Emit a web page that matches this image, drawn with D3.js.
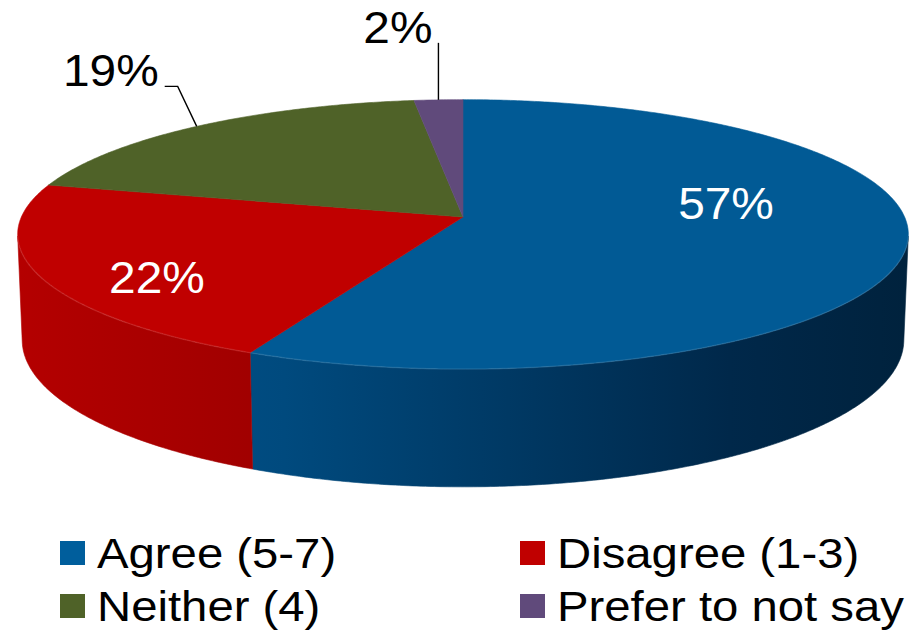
<!DOCTYPE html>
<html>
<head>
<meta charset="utf-8">
<script src="https://cdn.jsdelivr.net/npm/d3@7"></script>
<style>
  html, body { margin: 0; padding: 0; background: #fff; }
  svg { display: block; }
  text { font-family: "Liberation Sans", Arial, sans-serif; }
</style>
</head>
<body>
<svg id="chart" width="923" height="632"></svg>
<script>
// ---- data ----
const categories = ["Agree (5-7)", "Disagree (1-3)", "Neither (4)", "Prefer to not say"];
const values = [57, 22, 19, 2];
const labels = ["57%", "22%", "19%", "2%"];

// ---- styles / layout ----
const topColors  = ["#015A95", "#C00000", "#4F6228", "#604A7B"];
const legColors  = ["#005E9C", "#C00000", "#4F6228", "#604A7B"];
const wallStops = [
  [[0, "#005690"], [0.3, "#004a7e"], [0.55, "#003964"], [0.8, "#00284a"], [1, "#00223d"]],
  [[0, "#b40000"], [0.12, "#ab0000"], [0.26, "#a10000"], [1, "#a00000"]],
  [[0, "#3e4f1f"], [1, "#2f3c17"]],
  [[0, "#4c3b62"], [1, "#3a2d4b"]]
];
// label placement: inside labels at (r, dy) from projected point; outside with leader
const labelLayout = [
  {type: "inside", r: 0.6, dy: -16},
  {type: "inside", r: 0.735, dy: 33},
  {type: "outside", ex: -19, ey: -40, hx: -13},
  {type: "outside", ex: 0, ey: -57, hx: 0}
];

const svg = d3.select("#chart");
const fontSize = 43.5, legFontSize = 43, stretch = 1.1;

// perspective projection of a disk
const cx = 463, cy = 217, R = 1, D = 7.4, F = 3268, T = 0.25;
const sinP = 0.30, cosP = Math.sqrt(1 - sinP * sinP);
function proj(theta, r, y) {
  const X = r * Math.sin(theta), Z = r * Math.cos(theta), Y = y;
  const xc = X, yc = Y * cosP + Z * sinP, zc = D + Z * cosP - Y * sinP;
  return [cx + F * xc / zc, cy - F * yc / zc];
}
// visible outer wall range
const visC = Math.acos(-R / (D * cosP));
const visMin = visC, visMax = 2 * Math.PI - visC;

const pie = d3.pie().sort(null).value(d => d)(values);
const step = Math.PI / 360;
function rimPts(a0, a1, y) {
  const n = Math.max(2, Math.ceil(Math.abs(a1 - a0) / step));
  return d3.range(n + 1).map(i => proj(a0 + (a1 - a0) * i / n, R, y));
}
const line = d3.line();

const defs = svg.append("defs");
wallStops.forEach((stops, i) => {
  const g = defs.append("linearGradient").attr("id", "wall" + i)
    .attr("gradientUnits", "userSpaceOnUse")
    .attr("x1", cx - 445).attr("x2", cx + 445).attr("y1", 0).attr("y2", 0);
  stops.forEach(s => g.append("stop").attr("offset", s[0]).attr("stop-color", s[1]));
});

// walls
const walls = svg.append("g");
pie.forEach((p, i) => {
  const a0 = Math.max(p.startAngle, visMin), a1 = Math.min(p.endAngle, visMax);
  if (a1 <= a0) return;
  const pts = rimPts(a0, a1, 0).concat(rimPts(a1, a0, -T));
  walls.append("path").attr("d", line(pts) + "Z")
    .attr("fill", `url(#wall${i})`)
    .attr("stroke", `url(#wall${i})`).attr("stroke-width", 0.6);
});

// top faces
const tops = svg.append("g");
pie.forEach((p, i) => {
  const pts = [proj(0, 0, 0)].concat(rimPts(p.startAngle, p.endAngle, 0));
  tops.append("path").attr("d", line(pts) + "Z")
    .attr("fill", topColors[i]).attr("stroke", topColors[i]).attr("stroke-width", 0.6)
    .attr("stroke-linejoin", "round");
});
// subtle light rim highlight on the front edge
svg.append("path")
  .attr("d", line(rimPts(visMin, visMax, 0)))
  .attr("fill", "none").attr("stroke", "#ffffff").attr("stroke-opacity", 0.1).attr("stroke-width", 1.5);

// labels
function addText(g, x, y, txt, anchor, color, size) {
  return g.append("text")
    .attr("transform", `translate(${x},${y}) scale(${stretch},1)`)
    .attr("text-anchor", anchor).attr("font-size", size)
    .attr("fill", color).text(txt);
}
const lab = svg.append("g");
pie.forEach((p, i) => {
  const L = labelLayout[i];
  const mid = (p.startAngle + p.endAngle) / 2;
  if (L.type === "inside") {
    const [x, y] = proj(mid, L.r, 0);
    addText(lab, x, y + L.dy, labels[i], "middle", "#ffffff", fontSize);
  } else {
    const [x0, y0] = proj(mid, R, 0);
    const ex = x0 + L.ex, ey = y0 + L.ey, hx = ex + L.hx;
    lab.append("path").attr("d", line([[x0, y0], [ex, ey], [hx, ey]]))
      .attr("fill", "none").attr("stroke", "#000").attr("stroke-width", 1.4);
    addText(lab, hx - 6, ey, labels[i], "end", "#000", fontSize);
  }
});

// legend
const legend = svg.append("g");
const legX = [60, 520], legY = [541, 594];
categories.forEach((c, i) => {
  const col = i % 2, row = Math.floor(i / 2);
  legend.append("rect").attr("x", legX[col]).attr("y", legY[row])
    .attr("width", 25).attr("height", 24).attr("fill", legColors[i]);
  addText(legend, legX[col] + 37, legY[row] + 27, c, "start", "#000", legFontSize);
});
</script>
</body>
</html>
